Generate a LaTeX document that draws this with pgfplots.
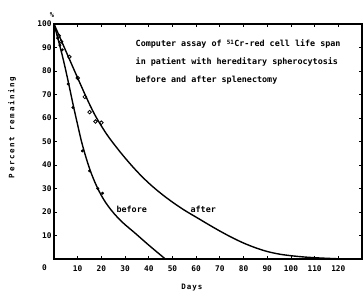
\documentclass[border=0pt]{standalone}
\usepackage{fontspec}
\setmainfont{DejaVu Sans Mono}
\usepackage{pgfplots}
\pgfplotsset{compat=1.18}
\begin{document}
\begin{tikzpicture}
\begin{axis}[
  scale only axis,
  width=308pt, height=235pt,
  xmin=0, xmax=130, ymin=0, ymax=100,
  axis line style={line width=1.6pt},
  tick align=inside,
  major tick length=3pt,
  tick style={line width=0.8pt,black},
  xtick={10,20,...,120},
  ytick={10,20,...,100},
  extra x ticks={0}, extra x tick labels={},
  /pgf/number format/assume math mode=true,
  tick label style={font=\fontsize{7.8}{9}\selectfont\bfseries},
  xticklabel style={yshift=-3pt},
  yticklabel style={xshift=1pt},
  clip=false,
]
\coordinate (ll) at (rel axis cs:0,0);
\coordinate (ur) at (rel axis cs:1,1);
% before curve
\addplot[black, line width=1.4pt, smooth, tension=0.6] coordinates {
(0,100)(2,92.5)(4,84.5)(6,75.5)(8,66)(10,57)(12,48.5)(15,38.5)(18,31)(21,25.3)(24,21)(27,17.5)(30,14.6)(34,11.2)(40,5.9)(47,0)};
% after curve
\addplot[black, line width=1.4pt, smooth, tension=0.6] coordinates {
(0,100)(5,88.5)(10,77)(14,68)(17,61.8)(20,56.6)(23,52)(26,48)(30,43)(35,37.3)(40,32.3)(45,28)(50,24.2)(55,20.8)(60,17.8)(65,14.8)(70,11.9)(75,9.2)(80,6.8)(85,4.8)(90,3.2)(95,2.1)(100,1.4)(105,0.9)(110,0.55)(115,0.3)(120,0.1)(124,0)};
% before data points
\addplot[only marks, mark=*, mark size=1.3pt, black] coordinates {
(1.5,94)(2.5,91)(3.5,89)(6,74.5)(8,64.5)(12,46)(15,37.5)(18.5,30)(20.5,28)};
% after data points
\addplot[only marks, mark=o, mark size=1.8pt, black, thick] coordinates {
(2,95)(3,92.5)(6.5,86)(10,77)(13,69)(15,62.5)(17.5,58.5)(20,58)};
\node[anchor=west, align=left, font=\fontsize{8.4}{18}\selectfont\bfseries] at (axis cs:33,83.7)
  {Computer assay of \textsuperscript{51}Cr-red cell life span\\in patient with hereditary spherocytosis\\before and after splenectomy};
\node[font=\fontsize{8.4}{10}\selectfont\bfseries] at (axis cs:32.8,21.3) {before};
\node[font=\fontsize{8.4}{10}\selectfont\bfseries] at (axis cs:63,21.3) {after};
\node[font=\fontsize{7.8}{9}\selectfont\bfseries] at (axis cs:-4,-3.7) {0};
\node[font=\fontsize{7}{8}\selectfont\bfseries] at (axis cs:-0.8,104) {\%};
\node[font=\fontsize{7.5}{9}\selectfont\bfseries\addfontfeature{LetterSpace=14}] at (axis cs:58.2,-12) {Days};
\node[rotate=90, font=\fontsize{7.5}{9}\selectfont\bfseries\addfontfeature{LetterSpace=22}] at (axis cs:-17.7,56) {Percent remaining};
\end{axis}
\pgfresetboundingbox
\path ([shift={(-54pt,-32pt)}]ll) rectangle ([shift={(1pt,24pt)}]ur);
\end{tikzpicture}
\end{document}
